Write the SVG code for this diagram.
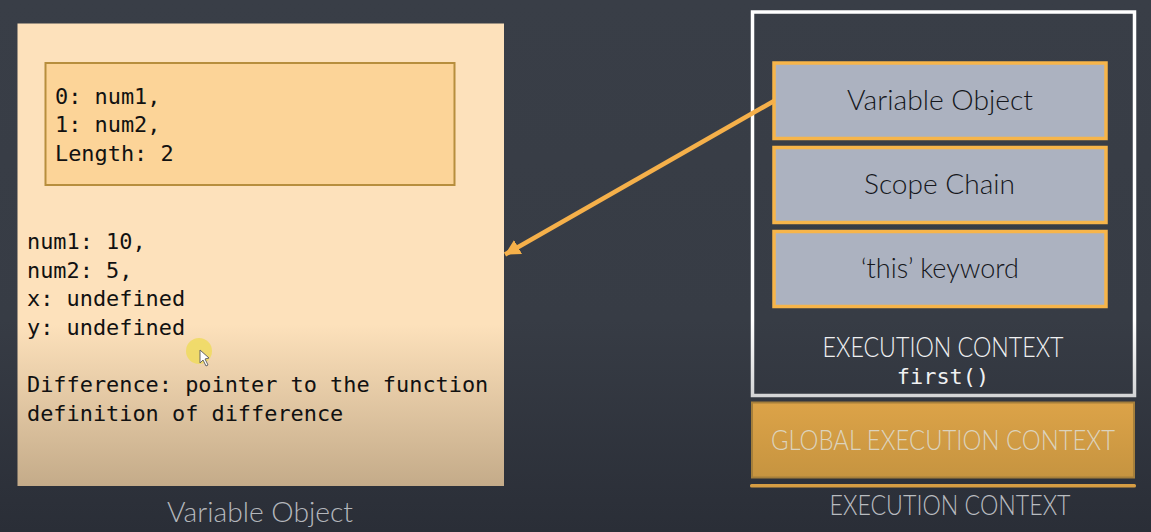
<svg xmlns="http://www.w3.org/2000/svg" width="1151" height="532" viewBox="0 0 1151 532">
<defs>
<linearGradient id="bg" x1="0" y1="0" x2="0" y2="1"><stop offset="0" stop-color="#393e47"/><stop offset="0.6" stop-color="#373c45"/><stop offset="1" stop-color="#2a2e37"/></linearGradient>
<linearGradient id="peach" gradientUnits="userSpaceOnUse" x1="0" y1="24" x2="0" y2="486"><stop offset="0" stop-color="#fde1bb"/><stop offset="0.65" stop-color="#fde1bb"/><stop offset="1" stop-color="#c4ab89"/></linearGradient>
<linearGradient id="gold" x1="0" y1="0" x2="0" y2="1"><stop offset="0" stop-color="#dca348"/><stop offset="1" stop-color="#c69440"/></linearGradient>
<linearGradient id="white" gradientUnits="userSpaceOnUse" x1="0" y1="12" x2="0" y2="396"><stop offset="0" stop-color="#ffffff"/><stop offset="0.8" stop-color="#ffffff"/><stop offset="1" stop-color="#d4d5d6"/></linearGradient>
<marker id="ah" markerUnits="userSpaceOnUse" markerWidth="18" markerHeight="18" refX="15" refY="9" orient="auto"><path d="M0 1L15 9L0 17Z" fill="#f5b04a"/></marker>
</defs>
<style>
.mono{font-family:"DejaVu Sans Mono","Liberation Mono",monospace;font-size:21.9px;fill:#111}
.sans{font-family:"Lato","Open Sans",sans-serif;font-size:26.500px;font-weight:300}
.box{fill:#acb2c0;stroke:#f7b54a;stroke-width:3.500}
.c{text-anchor:middle}
</style>
<rect width="1151" height="532" fill="url(#bg)"/>
<g id="variable-object">
<rect x="17.500" y="23.500" width="486.500" height="462.500" fill="url(#peach)"/>
<rect x="45.500" y="63" width="409" height="122" fill="#fcd498" stroke="#b78e3d" stroke-width="2"/>
<text class="mono" x="55" y="104">0: num1,</text>
<text class="mono" x="55" y="132">1: num2,</text>
<text class="mono" x="55" y="161">Length: 2</text>
<text class="mono" x="27" y="249">num1: 10,</text>
<text class="mono" x="27" y="278">num2: 5,</text>
<text class="mono" x="27" y="306">x: undefined</text>
<text class="mono" x="27" y="335">y: undefined</text>
<text class="mono" x="27" y="392">Difference: pointer to the function</text>
<text class="mono" x="27" y="421">definition of difference</text>
<text class="sans c" x="260" y="522" fill="#b4b7bc" textLength="186" lengthAdjust="spacingAndGlyphs">Variable Object</text>
</g>
<g id="cursor">
<circle cx="199" cy="351" r="13" fill="#f0da63" opacity="0.9"/>
<path d="M200 350L200 363L203 360L206 366L208 365L205 359L209 358Z" fill="#fff" stroke="#666" stroke-width="1"/>
</g>
<g id="execution-context">
<rect x="752.500" y="12" width="382" height="383.500" fill="none" stroke="url(#white)" stroke-width="3.500"/>
<text class="sans c" x="943" y="357" fill="#f0f1f2" textLength="241" lengthAdjust="spacingAndGlyphs">EXECUTION CONTEXT</text>
<text class="mono c" x="943" y="384" style="fill:#f0f1f2">first()</text>
</g>
<g id="node-variable-object">
<rect class="box" x="774" y="63" width="332" height="75.500"/>
<text class="sans c" x="940" y="110" fill="#15171c" textLength="186" lengthAdjust="spacingAndGlyphs">Variable Object</text>
</g>
<g id="node-scope-chain">
<rect class="box" x="774" y="147.500" width="332" height="75"/>
<text class="sans c" x="939.500" y="194" fill="#15171c" textLength="151" lengthAdjust="spacingAndGlyphs">Scope Chain</text>
</g>
<g id="node-this-keyword">
<rect class="box" x="774" y="231.500" width="332" height="75"/>
<text class="sans c" x="940" y="278" fill="#15171c" textLength="158" lengthAdjust="spacingAndGlyphs">‘this’ keyword</text>
</g>
<g id="global-execution-context">
<rect x="752" y="402.500" width="382" height="75" fill="url(#gold)" stroke="#a57f3b" stroke-width="2"/>
<text class="sans c" x="943" y="450" fill="#dcd3bd" textLength="344" lengthAdjust="spacingAndGlyphs">GLOBAL EXECUTION CONTEXT</text>
</g>
<g id="stack-label">
<rect x="750" y="484" width="386" height="3.500" rx="1.500" fill="#d69d43"/>
<text class="sans c" x="950" y="515" fill="#b9bcc0" textLength="241" lengthAdjust="spacingAndGlyphs">EXECUTION CONTEXT</text>
</g>
<g id="connectors">
<line x1="774" y1="101" x2="505" y2="254.500" stroke="#f5b04a" stroke-width="4.500" marker-end="url(#ah)"/>
</g>
</svg>
